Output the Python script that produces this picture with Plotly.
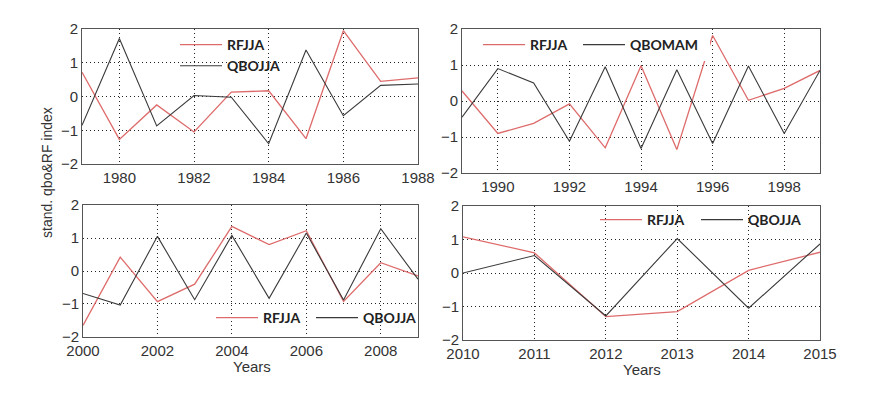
import plotly.graph_objects as go

# panel 1: 1979-1988
years_a = list(range(1979, 1989))
rf_a = [0.72, -1.27, -0.25, -1.05, 0.13, 0.17, -1.25, 1.95, 0.45, 0.55]
qbo_a = [-0.85, 1.72, -0.87, 0.03, -0.02, -1.40, 1.38, -0.57, 0.33, 0.37]

# panel 2: 1989-1999
years_b = list(range(1989, 2000))
rf_b = [0.28, -0.90, -0.62, -0.08, -1.30, 0.98, -1.35, 1.82, 0.02, 0.35, 0.85]
qbo_b = [-0.45, 0.90, 0.50, -1.12, 0.95, -1.32, 0.87, -1.18, 0.97, -0.90, 0.85]

# panel 3: 2000-2009
years_c = list(range(2000, 2010))
rf_c = [-1.65, 0.42, -0.93, -0.40, 1.35, 0.80, 1.22, -0.92, 0.25, -0.15]
qbo_c = [-0.68, -1.03, 1.05, -0.87, 1.08, -0.83, 1.15, -0.88, 1.28, -0.25]

# panel 4: 2010-2015
years_d = list(range(2010, 2016))
rf_d = [1.08, 0.60, -1.30, -1.15, 0.08, 0.62]
qbo_d = [0.00, 0.52, -1.28, 1.03, -1.05, 0.87]

# trailing nbsp on QBOMAM widens its white legend box over the 1996 red line, as in the original
panel_names = [("RFJJA", "QBOJJA"), ("RFJJA", "QBOMAM\u00a0\u00a0"), ("RFJJA", "QBOJJA"), ("RFJJA", "QBOJJA")]
y_ticks = [-2, -1, 0, 1, 2]

RED = "#de6b6b"
BLACK = "#3a3a3a"
TICK_FONT = dict(family="Liberation Sans, Arial", size=15, color="#333333")
LEGEND_FONT = dict(family="Lato, Open Sans", size=14, color="#222222", weight="bold")

panels = [
    (years_a, rf_a, qbo_a, [1979, 1988], list(range(1980, 1989, 2)), [0.0847, 0.4691], [0.6080, 0.9472]),
    (years_b, rf_b, qbo_b, [1989, 1999], list(range(1990, 1999, 2)), [0.5195, 0.9291], [0.5854, 0.9472]),
    (years_c, rf_c, qbo_c, [2000, 2009], list(range(2000, 2009, 2)), [0.0858, 0.4691], [0.1734, 0.5050]),
    (years_d, rf_d, qbo_d, [2010, 2015], list(range(2010, 2016)), [0.5206, 0.9291], [0.1658, 0.5025]),
]

# legend boxes: (rf legend, qbo legend); panel 1 keeps both entries in one vertical legend
legend_boxes = [
    (dict(x=0.1911, y=0.8807), None),
    (dict(x=0.5378, y=0.907), dict(x=0.6522, y=0.907)),
    (dict(x=0.2323, y=0.2211), dict(x=0.3467, y=0.2211)),
    (dict(x=0.6716, y=0.4673), dict(x=0.7872, y=0.4673)),
]

fig = go.Figure()
layout = dict(width=874, height=398, margin=dict(l=0, r=0, t=0, b=0, autoexpand=False), paper_bgcolor="white", plot_bgcolor="white", showlegend=True)

leg_count = 0
for i, (yrs, rf, qbo, xr, xt, xdom, ydom) in enumerate(panels):
    n = "" if i == 0 else str(i + 1)
    rf_name, qbo_name = panel_names[i]
    bg = "white" if i == 1 else "rgba(255,255,255,0)"
    leg_names = []
    for box in legend_boxes[i]:
        if box is None:
            leg_names.append(leg_names[-1])
            continue
        leg_count += 1
        leg = "legend" if leg_count == 1 else "legend" + str(leg_count)
        layout[leg] = dict(box, xanchor="left", yanchor="middle", orientation="v", tracegroupgap=0, bgcolor=bg, font=LEGEND_FONT, itemwidth=42, traceorder="normal")
        leg_names.append(leg)
    fig.add_trace(go.Scatter(x=yrs, y=rf, mode="lines", name=rf_name, line=dict(color=RED, width=1.3), xaxis="x" + n, yaxis="y" + n, legend=leg_names[0]))
    fig.add_trace(go.Scatter(x=yrs, y=qbo, mode="lines", name=qbo_name, line=dict(color=BLACK, width=1.1), xaxis="x" + n, yaxis="y" + n, legend=leg_names[1]))
    axis_common = dict(showline=True, linecolor="#555555", linewidth=1, mirror=True, ticks="", showgrid=True, gridcolor="#222222", griddash="1px,3px", gridwidth=1, zeroline=False, tickfont=TICK_FONT, automargin=False)
    layout["xaxis" + n] = dict(axis_common, domain=xdom, range=xr, tickvals=xt, anchor="y" + n)
    layout["yaxis" + n] = dict(axis_common, domain=ydom, range=[-2, 2], tickvals=y_ticks, ticktext=["\u22122", "\u22121", "0", "1", "2"], anchor="x" + n)

label_font = dict(family="Liberation Sans, Arial", size=14, color="#333333")
layout["annotations"] = [
    dict(text="stand. qbo&RF index", x=0.0446, y=0.588, xref="paper", yref="paper", xanchor="center", yanchor="middle", textangle=-90, showarrow=False, font=label_font),
    dict(text="Years", x=0.2792, y=0.1005, xref="paper", yref="paper", xanchor="center", yanchor="middle", showarrow=False, font=TICK_FONT),
    dict(text="Years", x=0.7254, y=0.0905, xref="paper", yref="paper", xanchor="center", yanchor="middle", showarrow=False, font=TICK_FONT),
]

fig.update_layout(**layout)
fig.write_html("out.html")
